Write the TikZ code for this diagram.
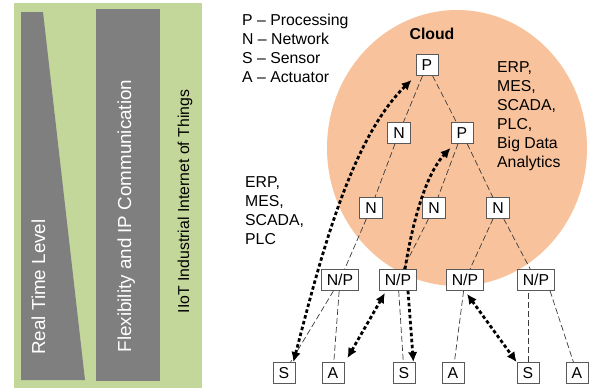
\documentclass[tikz,border=0pt]{standalone}
\usepackage{fontspec}
\setmainfont{Liberation Sans}
\usetikzlibrary{arrows.meta}
\definecolor{peach}{HTML}{F8C39C}
\definecolor{panelgreen}{HTML}{C4D79B}
\definecolor{bargray}{HTML}{7F7F7F}
\definecolor{boxgray}{HTML}{595959}
\definecolor{linegray}{HTML}{3A3A3A}
\begin{document}
\begin{tikzpicture}[x=1pt,y=-1pt,
  every node/.style={font=\fontsize{15.8}{19}\selectfont},
  box/.style={draw=boxgray,fill=white,line width=0.8pt,minimum width=22pt,minimum height=21pt,inner xsep=5.5pt,inner ysep=2pt},
  tree/.style={draw=linegray,line width=0.7pt,dash pattern=on 6pt off 3pt},
  flow/.style={line width=2.8pt,dash pattern=on 3.5pt off 2.5pt,draw=black},
  both/.style={flow,{Latex[length=10pt,width=9.5pt]}-{Latex[length=10pt,width=9.5pt]}},
  tohead/.style={flow,-{Latex[length=10pt,width=9.5pt]}},
  txt/.style={anchor=base west,inner sep=0pt},
  vtext/.style={rotate=90,anchor=base,inner sep=0pt}]
\useasboundingbox (0,0) rectangle (589,389);
\fill[white] (0,0) rectangle (589,389);

% left panel
\fill[panelgreen] (14,3) rectangle (202,388);
\fill[bargray] (21,12) -- (43,12) -- (85,380) -- (21,380) -- cycle;
\fill[bargray] (96,9) rectangle (160,381);
\node[vtext,text=white,font=\fontsize{18.8}{22}\selectfont] (rt) at (45,287) {Real Time Level};
\node[vtext,text=white,font=\fontsize{18.8}{22}\selectfont] (fx) at (131,216) {Flexibility and IP Communication};
\node[vtext,text=black] (iiot) at (189,201.5) {IIoT Industrial Internet of Things};

% cloud
\fill[peach] (457,148) ellipse [x radius=130pt, y radius=138pt];

% legend and texts
\node[txt] (l1) at (242,25) {P – Processing};
\node[txt] (l2) at (242,44) {N – Network};
\node[txt] (l3) at (242,63) {S – Sensor};
\node[txt] (l4) at (242,82) {A – Actuator};
\node[font=\fontsize{15.8}{19}\selectfont\bfseries] (cl) at (432,34) {Cloud};
\node[txt] (r1) at (497,72.7) {ERP,};
\node[txt] (r2) at (497,91.7) {MES,};
\node[txt] (r3) at (497,110.7) {SCADA,};
\node[txt] (r4) at (497,129.7) {PLC,};
\node[txt] (r5) at (497,148.7) {Big Data};
\node[txt] (r6) at (497,167.7) {Analytics};
\node[txt] (e1) at (245,187.5) {ERP,};
\node[txt] (e2) at (245,206.5) {MES,};
\node[txt] (e3) at (245,225.5) {SCADA,};
\node[txt] (e4) at (245,244.5) {PLC};

% tree nodes
\node[box] (P1) at (427,65) {P};
\node[box] (N1) at (399,133) {N};
\node[box] (P2) at (462,133) {P};
\node[box] (N2) at (371,208) {N};
\node[box] (N3) at (434,208) {N};
\node[box] (N4) at (498,208) {N};
\node[box] (NP1) at (340,280) {N/P};
\node[box] (NP2) at (398,280) {N/P};
\node[box] (NP3) at (465,280) {N/P};
\node[box] (NP4) at (536,280) {N/P};
\node[box] (S1) at (284,373) {S};
\node[box] (A1) at (333,373) {A};
\node[box] (S2) at (404,373) {S};
\node[box] (A2) at (453,373) {A};
\node[box] (S3) at (528,373) {S};
\node[box] (A3) at (577,373) {A};

% dashed tree links
\draw[tree] (P1) -- (N1);
\draw[tree] (P1) -- (P2);
\draw[tree] (N1) -- (N2);
\draw[tree] (P2) -- (N3);
\draw[tree] (P2) -- (N4);
\draw[tree] (N2) -- (NP1);
\draw[tree] (N3) -- ([xshift=5pt]NP2.north);
\draw[tree] (N4) -- (NP3);
\draw[tree] (N4) -- (NP4);
\draw[tree] (NP1) -- (S1);
\draw[tree] (NP1) -- (A1);
\draw[tree] (NP2) -- (S2);
\draw[tree] (NP3) -- (A2);
\draw[tree] (S3.north) -- (S3.north |- NP4.south);
\draw[tree] ([xshift=-5pt]NP4.south east) -- (A3);

% thick dotted flows
\coordinate (t1) at ([xshift=-2pt]S1.north east);
\coordinate (t2) at ([shift={(-4pt,-4pt)}]P1.south west);
\draw[both] (t1) .. controls (320,260) and (350,140) .. (t2);
\coordinate (t3) at ([xshift=7pt]NP2.north);
\coordinate (t4) at ([shift={(0pt,-4pt)}]P2.south west);
\draw[tohead] (t3) .. controls (412,225) and (425,175) .. (t4);
\coordinate (t5) at ([xshift=10pt]NP2.south);
\coordinate (t6) at ([xshift=-2pt]S2.north east);
\draw[tohead] (t5) -- (t6);
\coordinate (t7) at ([shift={(3pt,4pt)}]A1.north east);
\coordinate (t8) at ([shift={(6pt,-2pt)}]NP2.south west);
\draw[both] (t7) -- (t8);
\coordinate (t9) at ([shift={(2pt,-3pt)}]NP3.south);
\coordinate (t10) at (S3.north west);
\draw[both] (t9) -- (t10);
\end{tikzpicture}
\end{document}
